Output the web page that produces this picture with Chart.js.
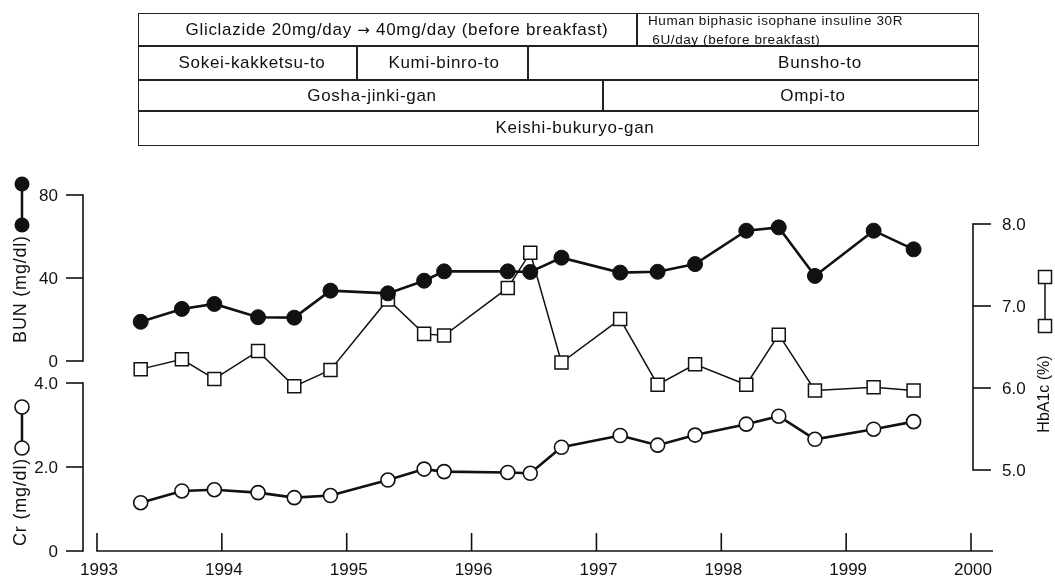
<!DOCTYPE html>
<html>
<head>
<meta charset="utf-8">
<title>BUN, Cr and HbA1c course</title>
<script src="https://cdn.jsdelivr.net/npm/chart.js@4.4.1/dist/chart.umd.min.js"></script>
<style>
  html, body { margin: 0; padding: 0; background: #fff; }
  #wrap { position: relative; width: 1055px; height: 582px; overflow: hidden; font-family: "Liberation Sans", Arial, Helvetica, sans-serif; color: #111; }
  #chart { position: absolute; left: 0; top: 0; }
  .cell { position: absolute; box-sizing: border-box; border: 1.5px solid #222; }
  .lbl { position: absolute; white-space: nowrap; transform: translate(-50%, -50%); font-size: 17px; letter-spacing: 0.7px; }
  .lbl .arrow { font-family: "DejaVu Sans", sans-serif; font-size: 15px; }
  .small { position: absolute; white-space: pre; transform: translateY(-50%); font-size: 13.5px; letter-spacing: 0.6px; }
</style>
</head>
<body>
<div id="wrap">
  <canvas id="chart" width="1055" height="582"></canvas>
</div>
<script>
// visit dates (decimal years) and lab values
const visitYears = [1993.35, 1993.68, 1993.94, 1994.29, 1994.58, 1994.87, 1995.33, 1995.62, 1995.78, 1996.29,
                    1996.47, 1996.72, 1997.19, 1997.49, 1997.79, 1998.20, 1998.46, 1998.75, 1999.22, 1999.54];
const bunValues = [18.9, 25.1, 27.5, 21.1, 20.9, 33.9, 32.6, 38.7, 43.2, 43.2,
                   42.9, 49.8, 42.6, 43.0, 46.7, 62.8, 64.4, 41.0, 62.8, 53.8];
const crValues = [1.15, 1.43, 1.46, 1.39, 1.27, 1.32, 1.69, 1.95, 1.89, 1.87,
                  1.85, 2.47, 2.75, 2.52, 2.76, 3.02, 3.21, 2.66, 2.90, 3.08];
const hba1cValues = [6.23, 6.35, 6.11, 6.45, 6.02, 6.22, 7.08, 6.66, 6.64, 7.22,
                     7.65, 6.31, 6.84, 6.04, 6.29, 6.04, 6.65, 5.97, 6.01, 5.97];

const yearTicks = [1993, 1994, 1995, 1996, 1997, 1998, 1999, 2000];
const bunTicks = [0, 40, 80];
const crTicks = [0, 2.0, 4.0];
const hba1cTicks = [5.0, 6.0, 7.0, 8.0];

// treatment table above the chart
const treatmentCells = [
  { text: "Gliclazide 20mg/day | 40mg/day (before breakfast)", x1: 138, x2: 636, y1: 13, y2: 45, cx: 397 },
  { text: "", x1: 636, x2: 977, y1: 13, y2: 45 },
  { text: "Sokei-kakketsu-to", x1: 138, x2: 356, y1: 45, y2: 79, cx: 252 },
  { text: "Kumi-binro-to", x1: 356, x2: 527, y1: 45, y2: 79, cx: 444 },
  { text: "Bunsho-to", x1: 527, x2: 977, y1: 45, y2: 79, cx: 820 },
  { text: "Gosha-jinki-gan", x1: 138, x2: 602, y1: 79, y2: 110, cx: 372 },
  { text: "Ompi-to", x1: 602, x2: 977, y1: 79, y2: 110, cx: 813 },
  { text: "Keishi-bukuryo-gan", x1: 138, x2: 977, y1: 110, y2: 144, cx: 575 }
];
const insulinLines = ["Human biphasic isophane insuline 30R", " 6U/day (before breakfast)"];

const wrap = document.getElementById("wrap");
treatmentCells.forEach((c) => {
  const d = document.createElement("div");
  d.className = "cell";
  d.style.left = c.x1 + "px";
  d.style.top = c.y1 + "px";
  d.style.width = (c.x2 - c.x1 + 1.5) + "px";
  d.style.height = (c.y2 - c.y1 + 1.5) + "px";
  wrap.appendChild(d);
  if (c.text) {
    const s = document.createElement("div");
    s.className = "lbl";
    // the "|" marks where the dose-change arrow goes
    c.text.split("|").forEach((part, i) => {
      if (i > 0) {
        const a = document.createElement("span");
        a.className = "arrow";
        a.textContent = "\u2192";
        s.appendChild(a);
      }
      s.appendChild(document.createTextNode(part));
    });
    s.style.left = c.cx + "px";
    s.style.top = ((c.y1 + c.y2) / 2 + 1) + "px";
    wrap.appendChild(s);
  }
});
insulinLines.forEach((t, i) => {
  const s = document.createElement("div");
  s.className = "small";
  s.textContent = t;
  s.style.left = "648px";
  s.style.top = (20 + i * 18.5) + "px";
  wrap.appendChild(s);
});

const INK = "#111";
const TICK_FONT = '17px "Liberation Sans", Arial, sans-serif';
const toPoints = (vals) => vals.map((v, i) => ({ x: visitYears[i], y: v }));

// axes drawn in the style of the paper figure, positioned from the chart's scales
const paperAxes = {
  id: "paperAxes",
  beforeDatasetsDraw(chart) {
    const { ctx, chartArea } = chart;
    const { x, yBun, yCr, yHb } = chart.scales;
    const seg = (x1, y1, x2, y2) => { ctx.beginPath(); ctx.moveTo(x1, y1); ctx.lineTo(x2, y2); ctx.stroke(); };
    ctx.save();
    ctx.strokeStyle = INK;
    ctx.fillStyle = INK;
    ctx.lineWidth = 1.6;
    ctx.font = TICK_FONT;

    // time axis with ticks pointing up
    const base = chartArea.bottom;
    seg(x.getPixelForValue(yearTicks[0]) - 0.8, base, chartArea.right, base);
    ctx.textAlign = "center";
    ctx.textBaseline = "alphabetic";
    yearTicks.forEach((yr) => {
      const px = x.getPixelForValue(yr);
      seg(px, base, px, base - 18);
      ctx.fillText(String(yr), px + 2, base + 24);
    });

    // left axes: BUN on top, Cr below
    const lx = chartArea.left;
    [[yBun, bunTicks, (v) => String(v)], [yCr, crTicks, (v) => (v === 0 ? "0" : v.toFixed(1))]].forEach(([s, ticks, fmt]) => {
      seg(lx, s.getPixelForValue(Math.max(...ticks)) - 0.8, lx, s.getPixelForValue(Math.min(...ticks)) + 0.8);
      ctx.textAlign = "right";
      ctx.textBaseline = "middle";
      ticks.forEach((t) => {
        const py = s.getPixelForValue(t);
        seg(lx - 17, py, lx, py);
        ctx.fillText(fmt(t), lx - 25, py + 1);
      });
    });

    // right axis: HbA1c
    const rx = chartArea.right - 20;
    seg(rx, yHb.getPixelForValue(8) - 0.8, rx, yHb.getPixelForValue(5) + 0.8);
    ctx.textAlign = "left";
    hba1cTicks.forEach((t) => {
      const py = yHb.getPixelForValue(t);
      seg(rx, py, rx + 18, py);
      ctx.fillText(t.toFixed(1), rx + 29, py + 1);
    });

    // axis titles with symbol keys
    const vText = (txt, cx, cy, font, spacing) => {
      ctx.save();
      ctx.translate(cx, cy);
      ctx.rotate(-Math.PI / 2);
      ctx.font = font;
      ctx.letterSpacing = spacing;
      ctx.textAlign = "center";
      ctx.textBaseline = "middle";
      ctx.fillText(txt, 0, 0);
      ctx.restore();
    };
    vText("BUN (mg/dl)", 21, 289, '18px "Liberation Sans", Arial, sans-serif', "0.8px");
    vText("Cr (mg/dl)", 21, 502, '18px "Liberation Sans", Arial, sans-serif', "0.8px");
    vText("HbA1c (%)", 1045, 394, '16px "Liberation Sans", Arial, sans-serif', "0px");

    ctx.lineWidth = 2.5;
    seg(22, 184, 22, 225);
    [184, 225].forEach((cy) => { ctx.beginPath(); ctx.arc(22, cy, 7.5, 0, Math.PI * 2); ctx.fill(); });
    seg(22, 407, 22, 448);
    ctx.lineWidth = 1.6;
    [407, 448].forEach((cy) => {
      ctx.beginPath(); ctx.arc(22, cy, 7, 0, Math.PI * 2);
      ctx.fillStyle = "#fff"; ctx.fill(); ctx.stroke();
    });
    ctx.lineWidth = 1.5;
    seg(1045, 277, 1045, 326);
    [277, 326].forEach((cy) => {
      ctx.fillStyle = "#fff";
      ctx.fillRect(1038.5, cy - 6.5, 13, 13);
      ctx.strokeRect(1038.5, cy - 6.5, 13, 13);
    });
    ctx.restore();
  }
};

new Chart(document.getElementById("chart"), {
  type: "line",
  data: {
    datasets: [
      {
        label: "BUN (mg/dl)",
        data: toPoints(bunValues),
        yAxisID: "yBun",
        order: 1,
        borderColor: INK,
        borderWidth: 2.6,
        pointStyle: "circle",
        pointRadius: 7.5,
        pointBackgroundColor: INK,
        pointBorderColor: INK,
        pointBorderWidth: 1,
        tension: 0
      },
      {
        label: "Cr (mg/dl)",
        data: toPoints(crValues),
        yAxisID: "yCr",
        order: 2,
        borderColor: INK,
        borderWidth: 2.6,
        pointStyle: "circle",
        pointRadius: 7,
        pointBackgroundColor: "#fff",
        pointBorderColor: INK,
        pointBorderWidth: 1.6,
        tension: 0
      },
      {
        label: "HbA1c (%)",
        data: toPoints(hba1cValues),
        yAxisID: "yHb",
        order: 3,
        borderColor: INK,
        borderWidth: 1.5,
        pointStyle: "rect",
        pointRadius: 9.2,
        pointBackgroundColor: "#fff",
        pointBorderColor: INK,
        pointBorderWidth: 1.5,
        tension: 0
      }
    ]
  },
  options: {
    responsive: false,
    animation: false,
    events: [],
    layout: { autoPadding: false, padding: { left: 83, right: 62, top: 190, bottom: 31 } },
    plugins: { legend: { display: false }, tooltip: { enabled: false } },
    scales: {
      // 125 px per year, 1993 sits 14 px right of the left axis
      x: { type: "linear", min: 1992.888, max: 2000.176, display: false },
      // BUN: 80 at 5 px below the top, 2.075 px per mg/dl
      yBun: { type: "linear", min: -91.57, max: 82.41, display: false },
      // Cr: 0 on the baseline, 42 px per mg/dl
      yCr: { type: "linear", min: 0, max: 8.595, display: false },
      // HbA1c: 82 px per %
      yHb: { type: "linear", min: 4.0122, max: 8.4146, display: false },
      y: { display: false }
    }
  },
  plugins: [paperAxes]
});
</script>
</body>
</html>
